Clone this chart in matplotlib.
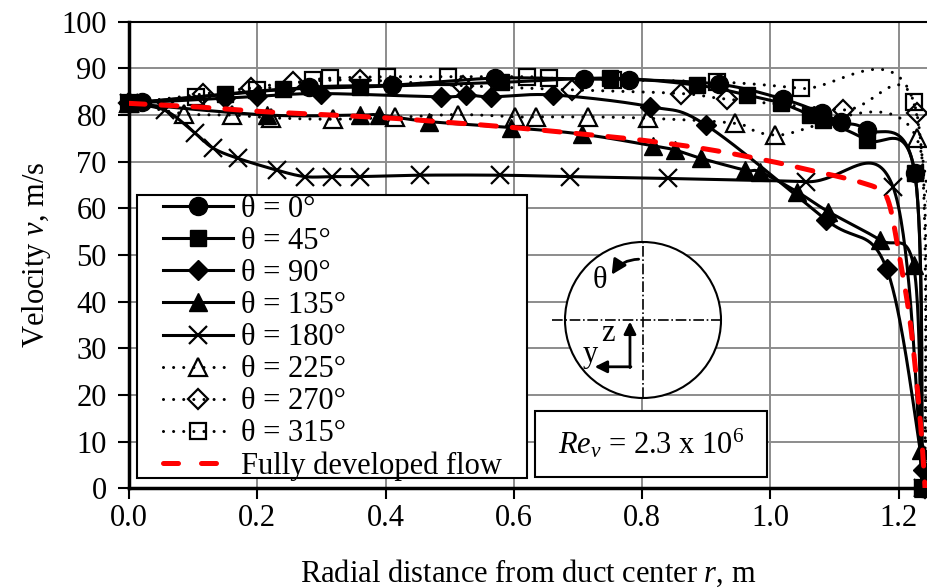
import numpy as np
import matplotlib
matplotlib.use('Agg')
import matplotlib.pyplot as plt
from matplotlib.lines import Line2D
from matplotlib.patches import Rectangle, Circle, FancyArrowPatch

plt.rcParams['font.family'] = ['Liberation Serif', 'DejaVu Serif']
plt.rcParams['mathtext.fontset'] = 'custom'
plt.rcParams['mathtext.rm'] = 'Liberation Serif'
plt.rcParams['mathtext.it'] = 'Liberation Serif:italic'
plt.rcParams['font.size'] = 22

## DATA
# radial distance r (m) and velocity v (m/s) per angle
r_0 = [0.0, 0.02, 0.28, 0.41, 0.57, 0.71, 0.78, 0.92, 1.02, 1.08, 1.11, 1.15, 1.225, 1.237]
v_0 = [82.5, 82.8, 85.9, 86.4, 87.9, 87.7, 87.6, 86.6, 83.4, 80.4, 78.4, 76.8, 67.5, 0.0]

r_45 = [0.0, 0.15, 0.24, 0.36, 0.58, 0.75, 0.885, 0.963, 1.017, 1.062, 1.082, 1.15, 1.225, 1.236]
v_45 = [82.5, 84.5, 85.5, 86.0, 87.0, 87.9, 86.4, 84.3, 82.5, 80.0, 78.9, 74.6, 67.5, 0.0]

r_90 = [0.0, 0.15, 0.2, 0.3, 0.487, 0.526, 0.565, 0.661, 0.812, 0.90, 1.087, 1.181, 1.238]
v_90 = [82.5, 83.6, 84.0, 84.6, 83.9, 84.3, 83.9, 84.3, 81.8, 77.8, 57.5, 47.1, 3.9]

r_135 = [0.0, 0.215, 0.36, 0.389, 0.467, 0.596, 0.706, 0.817, 0.851, 0.892, 0.96, 0.984,
         1.041, 1.09, 1.171, 1.223, 1.235]
v_135 = [82.5, 80.0, 80.0, 80.0, 78.6, 77.3, 75.9, 73.4, 72.5, 70.7, 68.2, 67.8,
         63.6, 59.3, 53.2, 47.8, 8.2]

r_180 = [0.0, 0.056, 0.103, 0.131, 0.170, 0.230, 0.274, 0.316, 0.36, 0.454, 0.578, 0.687,
         0.841, 1.056, 1.191, 1.237]
v_180 = [82.5, 81.0, 76.1, 72.9, 70.7, 68.2, 66.8, 66.8, 66.8, 67.1, 67.1, 66.8,
         66.4, 65.7, 64.6, 0.0]

r_225 = [0.0, 0.085, 0.160, 0.222, 0.318, 0.415, 0.513, 0.602, 0.635, 0.716, 0.809, 0.945,
         1.007, 1.228, 1.241]
v_225 = [82.5, 80.3, 80.0, 79.4, 79.1, 79.5, 80.1, 79.6, 79.6, 79.6, 79.3, 78.2,
         75.7, 75.0, 0.0]

r_270 = [0.0, 0.116, 0.19, 0.256, 0.36, 0.52, 0.69, 0.861, 0.932, 1.113, 1.228, 1.241]
v_270 = [82.5, 84.5, 85.8, 87.0, 87.5, 86.3, 85.4, 84.6, 83.4, 81.1, 80.4, 0.0]

r_315 = [0.0, 0.105, 0.199, 0.287, 0.313, 0.402, 0.498, 0.62, 0.654, 0.755, 0.916, 1.048,
         1.223, 1.241]
v_315 = [82.5, 83.9, 85.4, 87.5, 87.9, 88.2, 88.2, 88.2, 87.9, 87.5, 87.1, 85.7,
         82.8, 0.0]

# fully developed flow profile
r_fd = [0.0, 0.1, 0.2, 0.3, 0.4, 0.5, 0.6, 0.7, 0.8, 0.9, 1.0, 1.06, 1.1, 1.14, 1.17,
        1.185, 1.2, 1.218, 1.233, 1.241]
v_fd = [82.5, 81.8, 80.8, 80.1, 79.4, 78.4, 77.3, 76.0, 74.6, 72.7, 70.1, 68.2, 67.0, 65.6,
        64.0, 61.0, 50.5, 35.4, 15.3, 0.0]

labels = ['θ = 0°', 'θ = 45°', 'θ = 90°', 'θ = 135°', 'θ = 180°',
          'θ = 225°', 'θ = 270°', 'θ = 315°']


def smooth(x, y, n=40):
    """ Excel-like smoothed line (Catmull-Rom as cubic Bezier). """
    p = np.column_stack([x, y]).astype(float)
    p = np.vstack([p[0], p, p[-1]])
    t = np.linspace(0, 1, n)[:, None]
    out = []
    for i in range(1, len(p) - 2):
        p0, p1, p2, p3 = p[i - 1], p[i], p[i + 1], p[i + 2]
        c1 = p1 + (p2 - p0) / 6
        c2 = p2 - (p3 - p1) / 6
        out.append((1 - t) ** 3 * p1 + 3 * (1 - t) ** 2 * t * c1
                   + 3 * (1 - t) * t ** 2 * c2 + t ** 3 * p2)
    return np.vstack(out)


DOT = (0, (0.01, 3.3))
# (r, v, marker, size, filled, linestyle)
series = [
    (r_0, v_0, 'o', 13, True, '-'),
    (r_45, v_45, 's', 12, True, '-'),
    (r_90, v_90, 'D', 10, True, '-'),
    (r_135, v_135, '^', 13, True, '-'),
    (r_180, v_180, 'x', 13, True, '-'),
    (r_225, v_225, '^', 13, False, DOT),
    (r_270, v_270, 'D', 10, False, DOT),
    (r_315, v_315, 's', 12, False, DOT),
]

fig = plt.figure(figsize=(9.27, 5.88), dpi=100)
ax = fig.add_axes([0.1392, 0.1696, 1 - 0.1392, 0.9631 - 0.1696])

handles = []
for r, v, mk, ms, filled, ls in series:
    c = smooth(r, v)
    ax.plot(c[:, 0], c[:, 1], color='black', lw=2.2, ls=ls,
            dash_capstyle='round', zorder=3)
    mfc = 'black' if filled else 'none'
    mew = 1.6 if mk == 'x' or not filled else 1.0
    ax.plot(r, v, ls='none', marker=mk, ms=ms, mfc=mfc, mec='black', mew=mew,
            clip_on=False, zorder=4)
    handles.append(Line2D([], [], color='black', lw=2.2, ls=ls, dash_capstyle='round',
                          marker=mk, ms=ms, mfc=mfc, mec='black', mew=mew))

c = smooth(r_fd, v_fd)
ax.plot(c[:, 0], c[:, 1], color='red', lw=3.6, ls=(0, (3.2, 3.2)),
        dash_capstyle='round', zorder=5)
handles.append(Line2D([], [], color='red', lw=3.6, ls=(0, (3.0, 4.6)),
                      dash_capstyle='round'))
labels.append('Fully developed flow')

# axes styling
ax.set_xlim(0, 1.244)
ax.set_ylim(0, 100)
ax.set_xticks(np.arange(0, 1.21, 0.2))
ax.set_xticklabels(['%.1f' % t for t in np.arange(0, 1.21, 0.2)])
ax.set_yticks(np.arange(0, 101, 10))
ax.grid(True, color='#8c8c8c', lw=1.4)
ax.set_axisbelow(True)
ax.tick_params(axis='both', direction='out', length=8, width=1.5, color='black')
ax.tick_params(axis='x', pad=3)
ax.tick_params(axis='y', pad=8)
for side in ['left', 'bottom']:
    ax.spines[side].set_linewidth(2.5)
ax.spines['top'].set_linewidth(1.5)
ax.spines['right'].set_visible(False)
ax.set_xlabel('Radial distance from duct center $r$, m', labelpad=18)
ax.set_ylabel('Velocity $v$, m/s', labelpad=6)

# legend with its own box
ax.add_patch(Rectangle((137 / 927, 1 - 478 / 588), 390 / 927, 283 / 588,
                       transform=fig.transFigure, fc='white', ec='black', lw=1.5,
                       zorder=6, clip_on=False))
leg = ax.legend(handles, labels, loc='upper left', bbox_to_anchor=(163 / 927, 1 - 195 / 588),
                bbox_transform=fig.transFigure, frameon=False, borderpad=0,
                handlelength=2.29, handletextpad=0.25, labelspacing=0.1,
                borderaxespad=0)
leg.set_zorder(7)

# Reynolds number box
ax.add_patch(Rectangle((535 / 927, 1 - 477 / 588), 232 / 927, 66 / 588,
                       transform=fig.transFigure, fc='white', ec='black', lw=1.5,
                       zorder=6, clip_on=False))
ax.text(651 / 927, 1 - 444 / 588, '$Re_v$ = 2.3 x 10$^6$', transform=fig.transFigure,
        ha='center', va='center', zorder=7)

# duct cross-section sketch
ax_in = fig.add_axes([541.6 / 927, 1 - 405.8 / 588, 187.2 / 927, 171.6 / 588])
ax_in.set_xlim(-1.3, 1.1)
ax_in.set_ylim(-1.1, 1.1)
ax_in.axis('off')
ax_in.add_patch(Circle((0, 0), 1, fc='white', ec='black', lw=1.5))
ax_in.plot([-1.17, 1.0], [0, 0], color='black', lw=1.2, ls='-.')
ax_in.plot([0, 0], [-1.0, 1.0], color='black', lw=1.2, ls='-.')
ax_in.add_patch(FancyArrowPatch((-0.02, 0.78), (-0.42, 0.55), connectionstyle='arc3,rad=0.3',
                                arrowstyle='-|>', mutation_scale=22, lw=2.0, color='black'))
ax_in.text(-0.55, 0.5, 'θ', ha='center', va='center')
ax_in.annotate('', xy=(-0.167, -0.02), xytext=(-0.167, -0.61),
               arrowprops=dict(arrowstyle='-|>', lw=2, color='black', mutation_scale=18,
                               shrinkA=0, shrinkB=0))
ax_in.annotate('', xy=(-0.62, -0.6), xytext=(-0.155, -0.6),
               arrowprops=dict(arrowstyle='-|>', lw=2, color='black', mutation_scale=18,
                               shrinkA=0, shrinkB=0))
ax_in.text(-0.45, -0.17, 'z', ha='center', va='center')
ax_in.text(-0.67, -0.44, 'y', ha='center', va='center')

fig.savefig('out.png', dpi=100)
